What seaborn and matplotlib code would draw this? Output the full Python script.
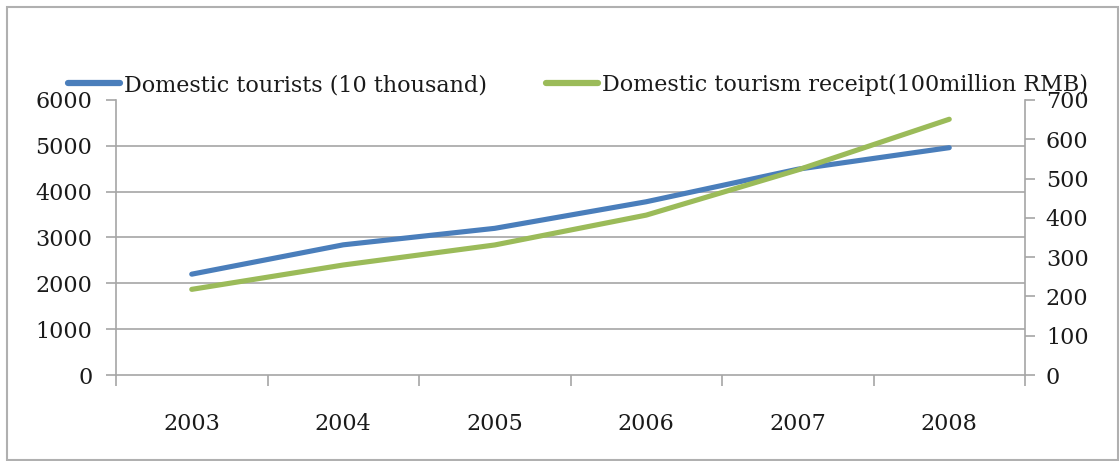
import matplotlib
matplotlib.use("Agg")
import matplotlib.pyplot as plt
from matplotlib.lines import Line2D
from matplotlib.patches import Rectangle
import seaborn as sns
import pandas as pd

years = ["2003", "2004", "2005", "2006", "2007", "2008"]
tourists = [2200, 2840, 3200, 3780, 4490, 4960]
receipts = [218, 280, 331, 407, 522, 651]
label_tourists = "Domestic tourists (10 thousand)"
label_receipts = "Domestic tourism receipt(100million RMB)"
left_ticks = [0, 1000, 2000, 3000, 4000, 5000, 6000]
right_ticks = [0, 100, 200, 300, 400, 500, 600, 700]

blue = "#4A7EBB"
green = "#9BBB59"
grid_c = "#A6A6A6"

sns.set_theme(style="white")
plt.rcParams["font.family"] = ["DejaVu Serif", "Liberation Serif"]

df = pd.DataFrame({"year": years, "tourists": tourists, "receipts": receipts})

fig = plt.figure(figsize=(11.2, 4.61), dpi=100)
ax = fig.add_axes([116/1120, 86/461, (1025-116)/1120, 275/461])
ax2 = ax.twinx()

sns.lineplot(data=df, x="year", y="tourists", ax=ax, color=blue, linewidth=3.7,
             solid_capstyle="round", sort=False)
sns.lineplot(data=df, x="year", y="receipts", ax=ax2, color=green, linewidth=3.7,
             solid_capstyle="round", sort=False)

n = len(years)
ax.set_xlim(-0.5, n - 0.5)
ax.set_ylim(0, 6000)
ax2.set_ylim(0, 700)
ax.set_yticks(left_ticks)
ax.set_yticklabels([str(v) for v in left_ticks])
ax2.set_yticks(right_ticks)
ax2.set_yticklabels([str(v) for v in right_ticks])
ax.set_xticks(range(n))
ax.set_xticklabels(years)
ax.set_xticks([i - 0.5 for i in range(n + 1)], minor=True)
ax.set_xlabel("")
ax.set_ylabel("")
ax2.set_ylabel("")

for v in left_ticks[1:-1]:
    ax.axhline(v, color=grid_c, linewidth=1.2, zorder=0)

for a in (ax, ax2):
    for s in a.spines.values():
        s.set_visible(False)
ax.spines["left"].set_visible(True)
ax.spines["bottom"].set_visible(True)
ax2.spines["right"].set_visible(True)
for s in (ax.spines["left"], ax.spines["bottom"], ax2.spines["right"]):
    s.set_color(grid_c)
    s.set_linewidth(1.2)

fs = 16
ax.tick_params(axis="y", which="major", left=True, length=7, width=1.2, color=grid_c,
               labelsize=fs, pad=10, labelcolor="#1a1a1a")
ax.tick_params(axis="x", which="major", bottom=False, length=0, labelsize=fs, pad=27,
               labelcolor="#1a1a1a")
ax.tick_params(axis="x", which="minor", bottom=True, length=8, width=1.2, color=grid_c)
ax2.tick_params(axis="y", which="major", right=True, length=7, width=1.2, color=grid_c,
                labelsize=fs, pad=8, labelcolor="#1a1a1a")

handles = [Line2D([0], [0], color=blue, linewidth=4.5),
           Line2D([0], [0], color=green, linewidth=4.5)]
fig.legend(handles, [label_tourists, label_receipts], ncol=2, loc="center left",
           bbox_to_anchor=(68/1120, 1 - 85/461), frameon=False, fontsize=fs,
           handlelength=2.35, handletextpad=0.18, columnspacing=2.65, borderaxespad=0,
           borderpad=0, labelcolor="#1a1a1a")

# outer chart frame
fig.patches.append(Rectangle((7/1120, 1/461), 1111/1120, 453/461, transform=fig.transFigure,
                             fill=False, edgecolor="#B0B0B0", linewidth=1.5))

fig.savefig("out.png", dpi=100, facecolor="white")
